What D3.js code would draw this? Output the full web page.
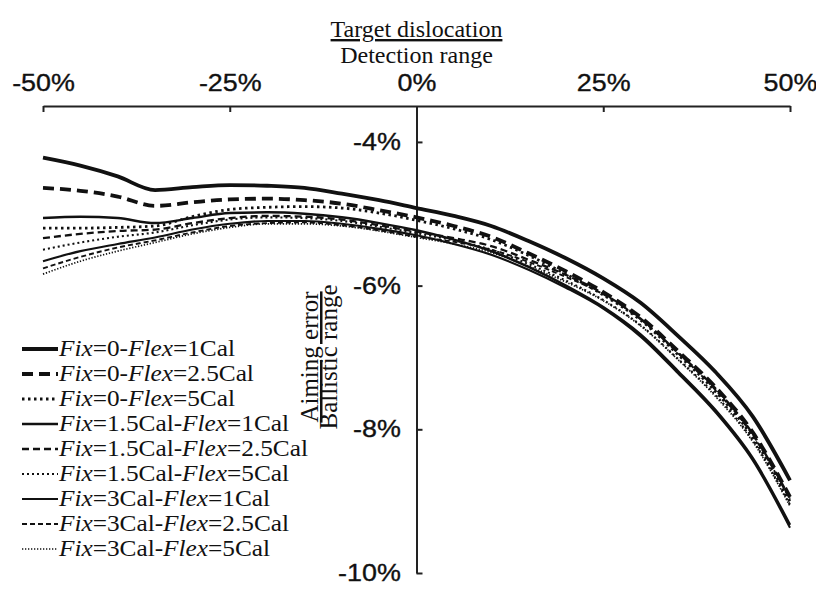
<!DOCTYPE html>
<html>
<head>
<meta charset="utf-8">
<script src="https://cdn.jsdelivr.net/npm/d3@7"></script>
<style>
  html, body { margin: 0; padding: 0; background: #fff; }
  svg { display: block; }
</style>
</head>
<body>
<svg id="chart" width="816" height="589"></svg>
<script>
// ---------------- DATA ----------------
const xValues = [-50,-45,-40,-35,-30,-25,-20,-15,-10,-5,0,5,10,15,20,25,30,35,40,45,50];
const xTicks = [-50,-25,0,25,50];
const yTicks = [-4,-6,-8,-10];

const fix0flex1   = [-4.22,-4.33,-4.48,-4.67,-4.63,-4.60,-4.61,-4.64,-4.72,-4.81,-4.92,-5.03,-5.17,-5.38,-5.62,-5.90,-6.24,-6.70,-7.20,-7.82,-8.71];
const fix0flex25  = [-4.64,-4.68,-4.76,-4.89,-4.84,-4.80,-4.79,-4.81,-4.86,-4.95,-5.05,-5.17,-5.32,-5.55,-5.80,-6.09,-6.44,-6.91,-7.41,-8.04,-8.94];
const fix0flex5   = [-5.20,-5.20,-5.19,-5.17,-5.04,-4.94,-4.91,-4.90,-4.92,-4.99,-5.09,-5.21,-5.36,-5.58,-5.84,-6.13,-6.48,-6.96,-7.47,-8.11,-9.01];
const fix15flex1  = [-5.06,-5.04,-5.06,-5.13,-5.06,-4.99,-4.98,-5.00,-5.05,-5.13,-5.23,-5.36,-5.52,-5.74,-6.00,-6.30,-6.68,-7.19,-7.73,-8.40,-9.33];
const fix15flex25 = [-5.34,-5.28,-5.24,-5.22,-5.13,-5.06,-5.03,-5.04,-5.08,-5.16,-5.25,-5.34,-5.45,-5.64,-5.85,-6.11,-6.46,-6.93,-7.43,-8.06,-8.96];
const fix15flex5  = [-5.50,-5.40,-5.32,-5.26,-5.16,-5.08,-5.05,-5.06,-5.10,-5.18,-5.27,-5.37,-5.50,-5.70,-5.93,-6.20,-6.55,-7.02,-7.52,-8.15,-9.05];
const fix3flex1   = [-5.66,-5.52,-5.42,-5.33,-5.22,-5.14,-5.10,-5.10,-5.14,-5.21,-5.30,-5.42,-5.57,-5.78,-6.03,-6.32,-6.71,-7.22,-7.76,-8.43,-9.37];
const fix3flex25  = [-5.76,-5.60,-5.47,-5.37,-5.26,-5.17,-5.13,-5.12,-5.16,-5.23,-5.32,-5.39,-5.50,-5.67,-5.88,-6.12,-6.47,-6.94,-7.45,-8.08,-8.98];
const fix3flex5   = [-5.84,-5.66,-5.52,-5.40,-5.28,-5.19,-5.14,-5.14,-5.17,-5.24,-5.33,-5.42,-5.54,-5.73,-5.95,-6.21,-6.56,-7.03,-7.54,-8.17,-9.07];

const fixLabels  = ["0","0","0","1.5Cal","1.5Cal","1.5Cal","3Cal","3Cal","3Cal"];
const flexLabels = ["1Cal","2.5Cal","5Cal","1Cal","2.5Cal","5Cal","1Cal","2.5Cal","5Cal"];
const seriesValues = [fix0flex1, fix0flex25, fix0flex5, fix15flex1, fix15flex25, fix15flex5, fix3flex1, fix3flex25, fix3flex5];

// ---------------- STYLES ----------------
const styles = [
  {w: 3.8, dash: null},
  {w: 3.8, dash: "11,6"},
  {w: 2.8, dash: "2.5,3.5"},
  {w: 2.5, dash: null},
  {w: 2.3, dash: "7,4"},
  {w: 2.1, dash: "2,3"},
  {w: 2.1, dash: null},
  {w: 1.9, dash: "5,3"},
  {w: 1.7, dash: "1.3,1.7"}
];
const ink = "#111";

const svg = d3.select("#chart");
const x = d3.scaleLinear().domain([-50, 50]).range([43, 790]);
const y = d3.scaleLinear().domain([-10, -3.5]).range([573, 106]);

// ---------------- AXES ----------------
const tickFont = "'Liberation Sans', Arial, sans-serif";
const xAxis = d3.axisTop(x).tickValues(xTicks).tickFormat(d => d + "%")
  .tickSizeInner(-6).tickSizeOuter(0).tickPadding(15);
const gx = svg.append("g").attr("transform", `translate(0,${y(-3.5)})`).call(xAxis);
gx.select(".domain").attr("stroke", "#222").attr("stroke-width", 2);
gx.selectAll(".tick line").attr("stroke", "#222").attr("stroke-width", 2);
gx.selectAll(".tick text").attr("font-family", tickFont).attr("font-size", 24)
  .attr("fill", "#111").attr("stroke", "#111").attr("stroke-width", 0.35)
  .attr("transform", "scale(1.12,1)");

const yAxis = d3.axisLeft(y).tickValues(yTicks).tickFormat(d => d + "%")
  .tickSizeInner(-6).tickSizeOuter(0).tickPadding(14);
const gy = svg.append("g").attr("transform", `translate(${x(0)},0)`).call(yAxis);
gy.select(".domain").attr("stroke", "#222").attr("stroke-width", 2);
gy.selectAll(".tick line").attr("stroke", "#222").attr("stroke-width", 2);
gy.selectAll(".tick text").attr("font-family", tickFont).attr("font-size", 24)
  .attr("fill", "#111").attr("stroke", "#111").attr("stroke-width", 0.35)
  .attr("transform", "scale(1.12,1)");

// ---------------- TITLES ----------------
const serif = "'Liberation Serif', 'Times New Roman', serif";
svg.append("text").attr("x", x(0)).attr("y", 37).attr("text-anchor", "middle")
  .attr("font-family", serif).attr("font-size", 24).attr("fill", "#111")
  .attr("text-decoration", "underline").text("Target dislocation");
svg.append("text").attr("x", x(0)).attr("y", 63).attr("text-anchor", "middle")
  .attr("font-family", serif).attr("font-size", 24).attr("fill", "#111")
  .text("Detection range");

svg.append("text").attr("transform", "translate(318,357) rotate(-90)")
  .attr("text-anchor", "middle").attr("font-family", serif).attr("font-size", 25)
  .attr("fill", "#111").attr("text-decoration", "underline").text("Aiming error");
svg.append("text").attr("transform", "translate(337,357) rotate(-90)")
  .attr("text-anchor", "middle").attr("font-family", serif).attr("font-size", 25)
  .attr("fill", "#111").text("Ballistic range");

// ---------------- LINES ----------------
const line = d3.line().x(d => x(d[0])).y(d => y(d[1])).curve(d3.curveMonotoneX);
seriesValues.forEach((vals, i) => {
  const pts = xValues.map((xv, j) => [xv, vals[j]]);
  const s = styles[i];
  svg.append("path").datum(pts).attr("d", line)
    .attr("fill", "none").attr("stroke", ink).attr("stroke-width", s.w)
    .attr("stroke-dasharray", s.dash);
});

// ---------------- LEGEND ----------------
const lg = svg.append("g");
const rowY = d3.scaleLinear().domain([0, 8]).range([349, 549]);
seriesValues.forEach((vals, i) => {
  const cy = rowY(i);
  const s = styles[i];
  lg.append("line").attr("x1", 22).attr("x2", 58).attr("y1", cy).attr("y2", cy)
    .attr("stroke", ink).attr("stroke-width", s.w).attr("stroke-dasharray", s.dash);
  const t = lg.append("text").attr("transform", `translate(59,${cy + 7}) scale(1.1,1)`)
    .attr("font-family", serif).attr("font-size", 23).attr("fill", "#111");
  t.append("tspan").attr("font-style", "italic").text("Fix");
  t.append("tspan").text("=" + fixLabels[i] + "-");
  t.append("tspan").attr("font-style", "italic").text("Flex");
  t.append("tspan").text("=" + flexLabels[i]);
});
</script>
</body>
</html>
